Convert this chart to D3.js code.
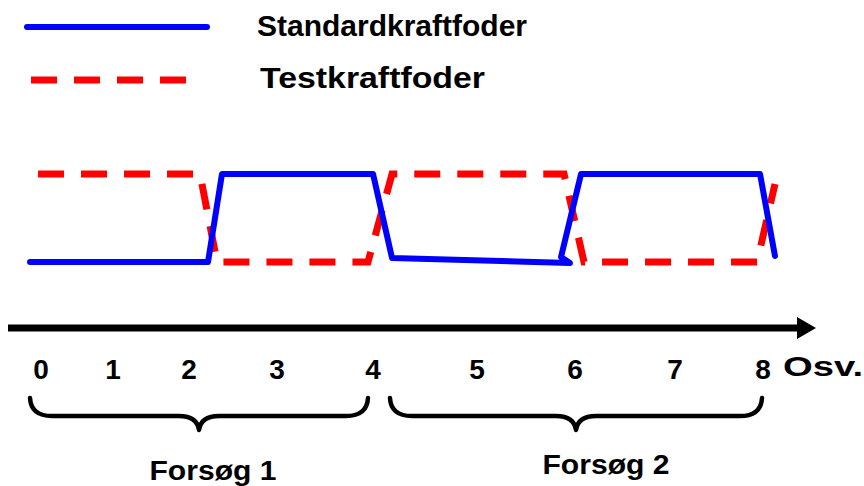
<!DOCTYPE html>
<html>
<head>
<meta charset="utf-8">
<script src="https://cdn.jsdelivr.net/npm/d3@7"></script>
<style>
  html, body { margin: 0; padding: 0; background: #fff; }
  svg { display: block; }
  text { font-family: "Liberation Sans", Arial, sans-serif; font-weight: bold; fill: #000; }
</style>
</head>
<body>
<svg id="chart" width="864" height="486"></svg>
<script>
// ---- data (x in weeks, level: 0 = low ration, 1 = high ration) ----
const seriesNames = ["Standardkraftfoder", "Testkraftfoder"];
const standardWeeks = [-0.133, 1.842, 1.997, 3.673, 3.884, 5.858, 5.759, 5.981, 7.967, 8.133];
const standardLevel = [0, 0, 1, 1, 0.045, -0.011, 0.057, 1, 1, 0.068];
const testWeeks = [-0.044, 1.753, 1.942, 3.617, 3.884, 5.792, 6.014, 7.934, 8.133];
const testLevel = [1, 1, 0, 0, 1, 1, 0, 0, 0.886];
const tickLabels = ["0", "1", "2", "3", "4", "5", "6", "7", "8"];
const tickWeeks = [-0.011, 0.788, 1.631, 2.607, 3.673, 4.827, 5.915, 7.024, 8.0];
const moreLabel = "Osv.";
const trialLabels = ["Forsøg 1", "Forsøg 2"];
const trialFrom = [-0.133, 3.861];
const trialTo = [3.617, 7.989];

// ---- layout ----
const svg = d3.select("#chart");
const x = d3.scaleLinear().domain([0, 8]).range([42, 763]);
const y = d3.scaleLinear().domain([0, 1]).range([262, 174]);

const blue = "#0000ff", red = "#ff0000";

const line = d3.line().x(d => x(d[0])).y(d => y(d[1]));
const standardPts = d3.zip(standardWeeks, standardLevel);
const testPts = d3.zip(testWeeks, testLevel);

// series lines
svg.append("path").attr("d", line(testPts))
  .attr("fill", "none").attr("stroke", red).attr("stroke-width", 7)
  .attr("stroke-dasharray", "26,17").attr("stroke-linejoin", "miter");
svg.append("path").attr("d", line(standardPts))
  .attr("fill", "none").attr("stroke", blue).attr("stroke-width", 6)
  .attr("stroke-linecap", "round").attr("stroke-linejoin", "round");

// legend
const legend = svg.append("g");
legend.append("line").attr("x1", 27).attr("x2", 207).attr("y1", 27).attr("y2", 27)
  .attr("stroke", blue).attr("stroke-width", 6).attr("stroke-linecap", "round");
legend.append("line").attr("x1", 31).attr("x2", 190).attr("y1", 80).attr("y2", 80)
  .attr("stroke", red).attr("stroke-width", 7).attr("stroke-dasharray", "26,17");
legend.append("text").attr("x", 257).attr("y", 36).attr("font-size", 30)
  .attr("textLength", 270).attr("lengthAdjust", "spacingAndGlyphs").text(seriesNames[0]);
legend.append("text").attr("x", 260).attr("y", 88).attr("font-size", 30)
  .attr("textLength", 225).attr("lengthAdjust", "spacingAndGlyphs").text(seriesNames[1]);

// time axis arrow
svg.append("line").attr("x1", 8).attr("x2", 800).attr("y1", 328).attr("y2", 328)
  .attr("stroke", "#000").attr("stroke-width", 7);
svg.append("path").attr("d", "M797,317 L816,328 L797,339 Z").attr("fill", "#000");

// tick labels
svg.append("g").selectAll("text").data(d3.zip(tickWeeks, tickLabels)).join("text")
  .attr("x", d => x(d[0])).attr("y", 379).attr("text-anchor", "middle")
  .attr("font-size", 28).text(d => d[1]);
svg.append("text").attr("x", 783).attr("y", 376).attr("font-size", 28)
  .attr("textLength", 80).attr("lengthAdjust", "spacingAndGlyphs").text(moreLabel);

// braces
function brace(x1, x2, y0, y1, y2) {
  const xm = (x1 + x2) / 2, r = 22, rm = 20;
  return `M${x1},${y0} Q${x1 + 1},${y1} ${x1 + r},${y1} L${xm - rm},${y1} Q${xm - 2},${y1} ${xm},${y2}` +
         ` Q${xm + 2},${y1} ${xm + rm},${y1} L${x2 - r},${y1} Q${x2 - 1},${y1} ${x2},${y0}`;
}
const trials = d3.range(trialLabels.length).map(i => ({ label: trialLabels[i], a: trialFrom[i], b: trialTo[i] }));
svg.append("g").selectAll("path").data(trials).join("path")
  .attr("d", d => brace(x(d.a), x(d.b), 398, 416, 430))
  .attr("fill", "none").attr("stroke", "#000").attr("stroke-width", 4.5)
  .attr("stroke-linecap", "round").attr("stroke-linejoin", "round");
svg.append("g").selectAll("text").data(trials).join("text")
  .attr("x", (d, i) => i === 0 ? 213 : 606).attr("y", (d, i) => i === 0 ? 480 : 474)
  .attr("text-anchor", "middle").attr("font-size", 28)
  .attr("textLength", 127).attr("lengthAdjust", "spacingAndGlyphs").text(d => d.label);
</script>
</body>
</html>
